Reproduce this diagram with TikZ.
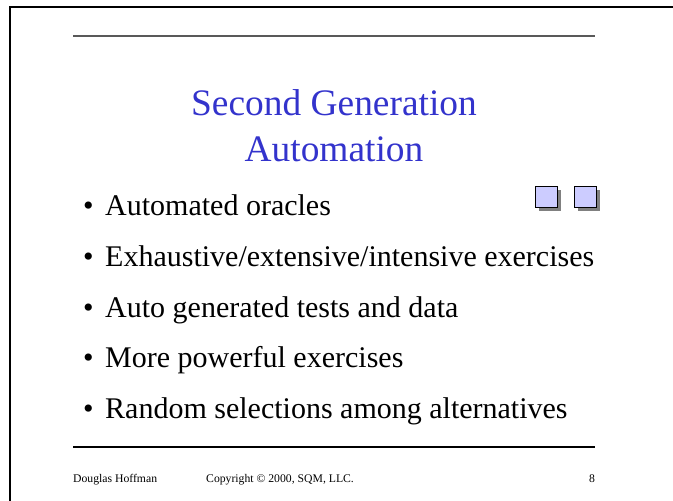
\documentclass[tikz,border=0pt]{standalone}
\usepackage{fontspec}
\setmainfont{Liberation Serif}
\definecolor{titleblue}{HTML}{3333CC}
\definecolor{boxfill}{HTML}{CCCCFF}
\definecolor{shadowgray}{HTML}{808080}
\tikzset{
  titletext/.style={font=\fontsize{37.4}{44}\selectfont, text=titleblue, align=center, inner sep=0pt},
  itemtext/.style={font=\fontsize{30}{34}\selectfont, anchor=base west, inner sep=0pt},
  foottext/.style={font=\fontsize{11.7}{14}\selectfont, anchor=base west, inner sep=0pt},
  rule/.style={line width=1.5pt},
  iconbox/.style={draw=black, line width=1pt, fill=boxfill},
}
\begin{document}
\begin{tikzpicture}[x=1pt, y=-1pt]
  \useasboundingbox (0,0) rectangle (673,501);
  % slide frame (left and top edges)
  \draw[line width=2.2pt] (10,501) -- (10,7) -- (673,7);
  % header and footer rules
  \draw[rule, draw=black!65] (73,36) -- (595,36);
  \draw[rule] (73,447) -- (595,447);
  % title
  \node[titletext, anchor=base] (t1) at (334,115) {Second Generation};
  \node[titletext, anchor=base] (t2) at (334,161) {Automation};
  % icons with drop shadows
  \foreach \x/\n in {535/a,574/b} {
    \fill[shadowgray] (\x+4,190) rectangle (\x+26,211);
    \draw[iconbox] (\x,186) rectangle (\x+22,207);
  }
  % bullet list
  \foreach \y/\txt [count=\i] in {
    215/Automated oracles,
    266/Exhaustive\slash extensive\slash intensive exercises,
    317/Auto generated tests and data,
    367/More powerful exercises,
    418/Random selections among alternatives} {
    \node[itemtext] (b\i) at (83,\y) {\textbullet};
    \node[itemtext] (i\i) at (105,\y) {\txt};
  }
  % footer
  \node[foottext] (f1) at (73,482) {Douglas Hoffman};
  \node[foottext] (f2) at (206,482) {Copyright \textcopyright{} 2000, SQM, LLC.};
  \node[foottext] (f3) at (589,482) {8};
\end{tikzpicture}
\end{document}
